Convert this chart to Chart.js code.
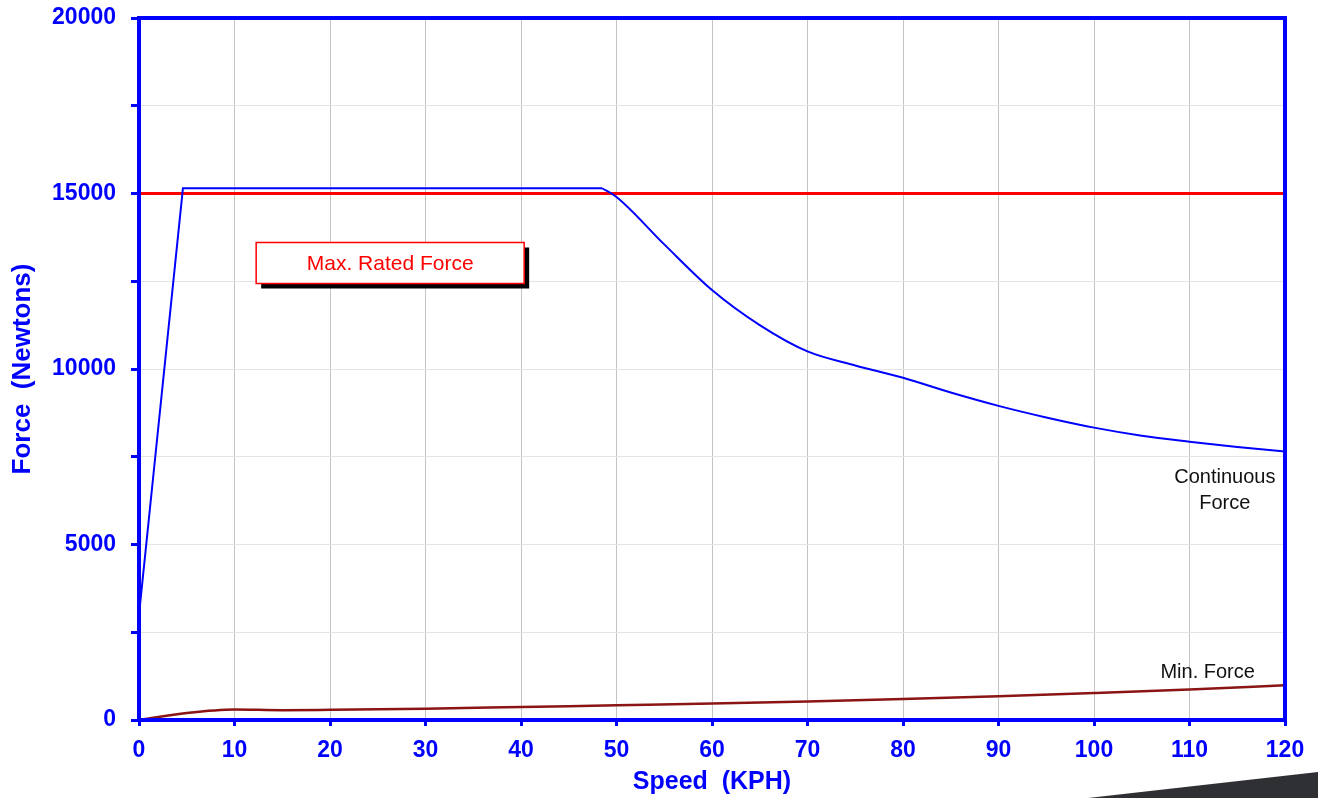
<!DOCTYPE html>
<html>
<head>
<meta charset="utf-8">
<script src="https://cdn.jsdelivr.net/npm/chart.js@4.4.1/dist/chart.umd.min.js"></script>
<style>
  html, body { margin: 0; padding: 0; background: #fff; }
  #wrap { position: relative; width: 1318px; height: 798px; overflow: hidden; }
  #corner {
    position: absolute; left: 0; top: 0; width: 1318px; height: 798px;
    background: #2e3034;
    clip-path: polygon(1088px 798px, 1318px 772px, 1318px 798px);
    pointer-events: none;
  }
</style>
</head>
<body>
<div id="wrap">
  <canvas id="grafico" width="1318" height="798"></canvas>
  <div id="corner"></div>
</div>
<script>
// Continuous force: straight ramp and flat top
const speedRamp = [0, 4.6, 48.5];
const forceRamp = [3000, 15150, 15150];

// Continuous force: falling curve after the knee
const speedCurve = [48.5, 50, 55, 60, 65, 70, 75, 80, 85, 90, 95, 100, 105, 110, 115, 120];
const forceCurve = [15150, 14900, 13550, 12250, 11250, 10500, 10100, 9750, 9330, 8950, 8620, 8330, 8100, 7930, 7780, 7650];

// Max rated force
const speedMax = [0, 120];
const forceMax = [15000, 15000];

// Min force
const speedMin = [0, 5, 10, 15, 20, 30, 40, 50, 60, 70, 80, 90, 100, 110, 120];
const forceMin = [0, 200, 300, 280, 290, 320, 370, 420, 470, 530, 600, 680, 770, 870, 990];

const xTicks = [0, 10, 20, 30, 40, 50, 60, 70, 80, 90, 100, 110, 120];
const yLabels = [0, 5000, 10000, 15000, 20000];

const pontos = (xs, ys) => xs.map((x, i) => ({ x: x, y: ys[i] }));

const azul = '#0000ff';
const fonte = '"Liberation Sans", Arial, sans-serif';

// notes placed in data units
const notas = [
  { texto: 'Continuous', x: 113.7, y: 6900 },
  { texto: 'Force', x: 113.7, y: 6180 },
  { texto: 'Min. Force', x: 111.9, y: 1340 }
];
const caixa = { texto: 'Max. Rated Force', x: 26.3, y: 13020 };

const moldura = {
  id: 'moldura',
  afterDatasetsDraw(chart) {
    const { ctx, chartArea: a, scales } = chart;
    ctx.save();
    ctx.strokeStyle = azul;
    ctx.lineWidth = 4;
    ctx.strokeRect(a.left, a.top, a.right - a.left, a.bottom - a.top);

    ctx.fillStyle = '#111';
    ctx.font = '20px ' + fonte;
    ctx.textAlign = 'center';
    ctx.textBaseline = 'middle';
    notas.forEach(n => {
      ctx.fillText(n.texto, scales.x.getPixelForValue(n.x), scales.y.getPixelForValue(n.y));
    });

    const cx = scales.x.getPixelForValue(caixa.x);
    const cy = scales.y.getPixelForValue(caixa.y);
    const w = 268, h = 41;
    ctx.fillStyle = '#000';
    ctx.fillRect(cx - w / 2 + 5, cy - h / 2 + 5, w, h);
    ctx.fillStyle = '#fff';
    ctx.fillRect(cx - w / 2, cy - h / 2, w, h);
    ctx.strokeStyle = '#ff0000';
    ctx.lineWidth = 1.5;
    ctx.strokeRect(cx - w / 2, cy - h / 2, w, h);
    ctx.fillStyle = '#ff0000';
    ctx.font = '21px ' + fonte;
    ctx.fillText(caixa.texto, cx, cy + 1);
    ctx.restore();
  }
};

function semMargem(scale) {
  scale.paddingTop = 0;
  scale.paddingBottom = 0;
  scale.paddingLeft = 0;
  scale.paddingRight = 0;
}

new Chart(document.getElementById('grafico').getContext('2d'), {
  type: 'line',
  data: {
    datasets: [
      {
        label: 'Continuous Force',
        data: pontos(speedRamp, forceRamp),
        borderColor: azul,
        borderWidth: 2,
        pointRadius: 0,
        tension: 0,
        order: 0
      },
      {
        label: 'Continuous Force (curve)',
        data: pontos(speedCurve, forceCurve),
        borderColor: azul,
        borderWidth: 2,
        pointRadius: 0,
        cubicInterpolationMode: 'monotone',
        order: 0
      },
      {
        label: 'Max. Rated Force',
        data: pontos(speedMax, forceMax),
        borderColor: '#ff0000',
        borderWidth: 3,
        pointRadius: 0,
        order: 1
      },
      {
        label: 'Min. Force',
        data: pontos(speedMin, forceMin),
        borderColor: '#8b1414',
        borderWidth: 2.5,
        pointRadius: 0,
        cubicInterpolationMode: 'monotone',
        order: 2
      }
    ]
  },
  options: {
    responsive: false,
    animation: false,
    layout: { padding: { left: 0, top: 18, right: 33, bottom: 0 } },
    plugins: {
      legend: { display: false },
      tooltip: { enabled: false }
    },
    scales: {
      x: {
        type: 'linear',
        min: 0,
        max: 120,
        afterFit(scale) { scale.height = 78; semMargem(scale); },
        afterBuildTicks(scale) { scale.ticks = xTicks.map(v => ({ value: v })); },
        grid: { color: '#c4c4c4', lineWidth: 1, tickColor: azul, tickLength: 6, tickWidth: 3 },
        border: { color: azul, width: 4 },
        ticks: {
          color: azul,
          padding: 11,
          font: { family: fonte, size: 23, weight: 'bold' }
        },
        title: {
          display: true,
          text: 'Speed  (KPH)',
          color: azul,
          padding: { top: 0, bottom: 1 },
          font: { family: fonte, size: 25, weight: 'bold' }
        }
      },
      y: {
        min: 0,
        max: 20000,
        afterFit(scale) { scale.width = 139; semMargem(scale); },
        ticks: {
          stepSize: 2500,
          autoSkip: false,
          color: azul,
          padding: 15,
          font: { family: fonte, size: 23, weight: 'bold' },
          callback: v => yLabels.includes(v) ? String(v) : ''
        },
        grid: { color: '#e4e4e4', lineWidth: 1, tickColor: azul, tickLength: 8, tickWidth: 3 },
        border: { color: azul, width: 4 },
        title: {
          display: true,
          text: 'Force  (Newtons)',
          color: azul,
          padding: { top: 7, bottom: 0 },
          font: { family: fonte, size: 26, weight: 'bold' }
        }
      }
    }
  },
  plugins: [moldura]
});
</script>
</body>
</html>
